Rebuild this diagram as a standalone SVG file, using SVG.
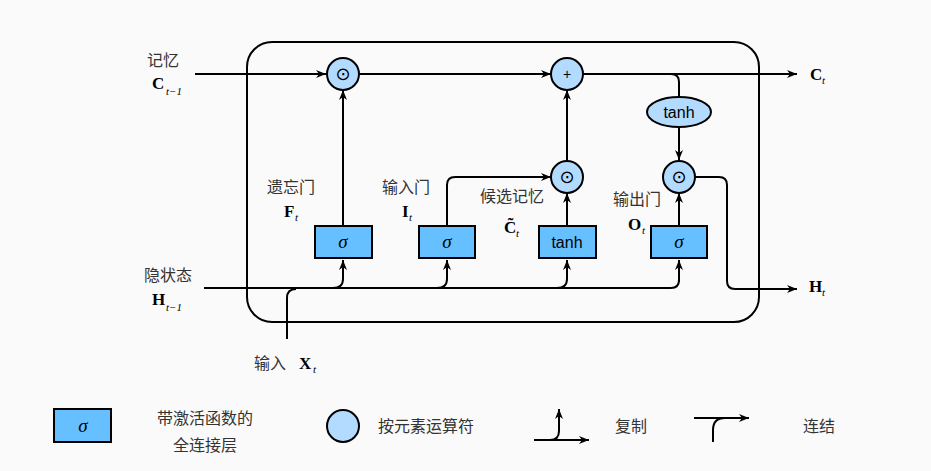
<svg xmlns="http://www.w3.org/2000/svg" width="931" height="471" viewBox="0 0 931 471">
<defs>
<marker id="arr" markerUnits="userSpaceOnUse" markerWidth="12" markerHeight="10" refX="10" refY="4" orient="auto">
<path d="M0,0 L10,4 L0,8 L3,4 Z" fill="#000"/>
</marker>
<style>
.ln{fill:none;stroke:#000;stroke-width:2}
.ar{marker-end:url(#arr)}
.box{fill:#66bfff;stroke:#000;stroke-width:2}
.op{fill:#b3daff;stroke:#000;stroke-width:2}
.cn{font-family:"Noto Sans CJK SC","Noto Sans",sans-serif;font-size:16px;fill:#333;text-anchor:middle}
.m{font-family:"Liberation Serif","Times New Roman",serif;font-weight:bold;font-size:17px;fill:#000}
.s{font-family:"Liberation Serif","Times New Roman",serif;font-style:italic;font-size:11px;fill:#000}
.sg{font-family:"Liberation Serif",serif;font-style:italic;font-size:19px;fill:#000;text-anchor:middle}
.tx{font-family:"Liberation Sans",Arial,sans-serif;font-size:16px;fill:#000;text-anchor:middle}
.dot{font-family:"DejaVu Sans",sans-serif;font-size:18px;fill:#000;text-anchor:middle}
</style>
</defs>
<rect width="931" height="471" fill="#fafafa"/>
<rect x="247" y="42" width="512" height="280" rx="25" ry="25" class="ln"/>

<g id="connectors">
<path class="ln ar" d="M195,74 H326"/>
<path class="ln ar" d="M359,74 H551"/>
<path class="ln ar" d="M583,74 H797"/>
<path class="ln" d="M671,74 Q679,74 679,82 V97"/>
<path class="ln ar" d="M679,127 V160"/>
<path class="ln ar" d="M343,226 V90"/>
<path class="ln ar" d="M567,226 V193"/>
<path class="ln ar" d="M567,161 V90"/>
<path class="ln ar" d="M447,226 V185 Q447,177 455,177 H551"/>
<path class="ln ar" d="M679,226 V193"/>
<path class="ln ar" d="M695,177 H719 Q727,177 727,185 V281 Q727,289 735,289 H797"/>
<path class="ln" d="M204,288 H671 Q679,288 679,280"/>
<path class="ln ar" d="M679,282 V260"/>
<path class="ln" d="M287,339 V298 Q287,289 296,289"/>
<path class="ln ar" d="M333,288 Q343,288 343,279 V260"/>
<path class="ln ar" d="M437,288 Q447,288 447,279 V260"/>
<path class="ln ar" d="M557,288 Q567,288 567,279 V260"/>
</g>

<g id="mul-f"><circle cx="343" cy="74" r="16" class="op"/><text x="343" y="80" class="dot">⊙</text></g>
<g id="add"><circle cx="567" cy="74" r="16" class="op"/><text x="567" y="79" class="tx" style="font-size:14px">+</text></g>
<g id="mul-i"><circle cx="567" cy="177" r="16" class="op"/><text x="567" y="183" class="dot">⊙</text></g>
<g id="mul-o"><circle cx="679" cy="177" r="16" class="op"/><text x="679" y="183" class="dot">⊙</text></g>
<g id="tanh-c"><ellipse cx="679" cy="112" rx="32" ry="15" class="op"/><text x="679" y="118" class="tx">tanh</text></g>

<g id="gate-f"><rect x="315" y="226" width="57" height="32" class="box"/><text x="343" y="248" class="sg">σ</text></g>
<g id="gate-i"><rect x="419" y="226" width="56" height="32" class="box"/><text x="447" y="248" class="sg">σ</text></g>
<g id="gate-c"><rect x="539" y="226" width="57" height="32" class="box"/><text x="567" y="248" class="tx">tanh</text></g>
<g id="gate-o"><rect x="651" y="226" width="56" height="32" class="box"/><text x="679" y="248" class="sg">σ</text></g>

<g id="labels">
<text x="163" y="66" class="cn">记忆</text>
<text x="152" y="89" class="m">C</text><text x="166" y="95" class="s">t−1</text>
<text x="810" y="80" class="m">C</text><text x="822" y="84" class="s">t</text>
<text x="291" y="193" class="cn">遗忘门</text>
<text x="284" y="217" class="m">F</text><text x="295" y="221" class="s">t</text>
<text x="406" y="193" class="cn">输入门</text>
<text x="402" y="217" class="m">I</text><text x="409" y="221" class="s">t</text>
<text x="512" y="202" class="cn">候选记忆</text>
<text x="504" y="233" class="m">C̃</text><text x="516" y="237" class="s">t</text>
<text x="637" y="205" class="cn">输出门</text>
<text x="628" y="230" class="m">O</text><text x="642" y="234" class="s">t</text>
<text x="168" y="281" class="cn">隐状态</text>
<text x="152" y="305" class="m">H</text><text x="166" y="311" class="s">t−1</text>
<text x="270" y="369" class="cn">输入</text>
<text x="299" y="369" class="m">X</text><text x="313" y="373" class="s">t</text>
<text x="809" y="292" class="m">H</text><text x="822" y="296" class="s">t</text>
</g>

<g id="legend">
<g id="leg-box"><rect x="54" y="409" width="57" height="33" class="box"/><text x="83" y="432" class="sg">σ</text></g>
<text x="205" y="424" class="cn">带激活函数的</text>
<text x="205" y="451" class="cn">全连接层</text>
<g id="leg-op"><circle cx="343" cy="426" r="16" class="op"/></g>
<text x="426" y="432" class="cn">按元素运算符</text>
<g id="leg-copy"><path class="ln ar" d="M534,440 H589"/><path class="ln ar" d="M550,440 Q559,440 559,431 V409"/></g>
<text x="631" y="432" class="cn">复制</text>
<g id="leg-concat"><path class="ln ar" d="M694,418 H749"/><path class="ln" d="M713,442 V430 Q713,418 725,418"/></g>
<text x="819" y="432" class="cn">连结</text>
</g>
</svg>
